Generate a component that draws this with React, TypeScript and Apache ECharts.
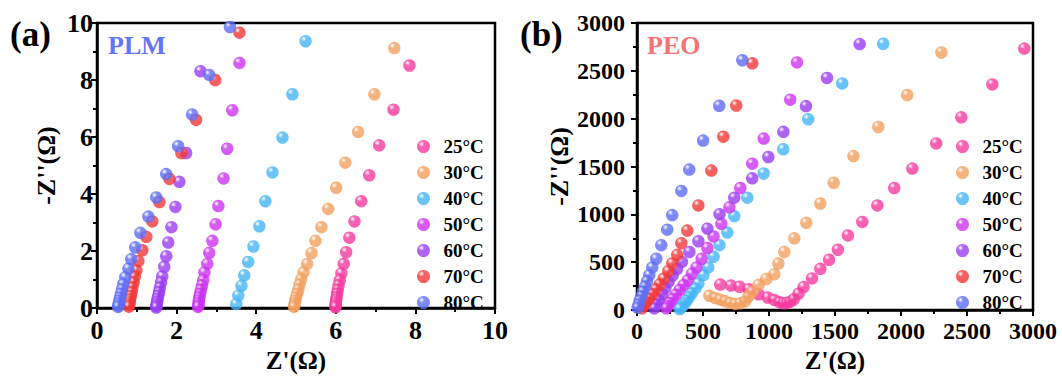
import React, { useEffect, useRef } from "react";
import * as echarts from "echarts";

const seriesNames = ["25°C", "30°C", "40°C", "50°C", "60°C", "70°C", "80°C"];
const seriesColors = ["#F53A9E", "#F2A060", "#45B5F5", "#CC33F0", "#9A3CF2", "#F23838", "#5E6CF5"];

const plmXTicks = { min: 0, max: 10, interval: 2 };
const plmYTicks = { min: 0, max: 10, interval: 2 };
const peoXTicks = { min: 0, max: 3000, interval: 500 };
const peoYTicks = { min: 0, max: 3000, interval: 500 };

const plm25 = [[7.85,8.51],[7.45,6.96],[7.09,5.71],[6.84,4.66],[6.64,3.75],[6.47,3.04],[6.34,2.47],[6.26,1.96],[6.20,1.55],[6.14,1.22],[6.10,0.98],[6.07,0.80],[6.05,0.64],[6.03,0.50],[6.02,0.38],[6.01,0.28],[6.00,0.20],[6.00,0.13],[5.99,0.07],[5.99,0.03]];
const plm30 = [[7.47,9.12],[6.97,7.50],[6.56,6.18],[6.24,5.10],[6.01,4.22],[5.81,3.48],[5.64,2.84],[5.49,2.36],[5.39,1.93],[5.28,1.55],[5.19,1.25],[5.13,1.01],[5.09,0.82],[5.06,0.65],[5.03,0.50],[5.00,0.37],[4.98,0.26],[4.97,0.17],[4.96,0.10],[4.95,0.04]];
const plm40 = [[5.24,9.36],[4.91,7.50],[4.66,5.98],[4.41,4.76],[4.23,3.75],[4.08,2.87],[3.93,2.16],[3.80,1.62],[3.70,1.15],[3.63,0.78],[3.55,0.44],[3.50,0.14]];
const plm50 = [[3.58,8.60],[3.40,6.94],[3.27,5.59],[3.18,4.55],[3.05,3.58],[2.98,2.94],[2.90,2.36],[2.82,1.94],[2.77,1.55],[2.70,1.25],[2.67,0.98],[2.64,0.80],[2.61,0.64],[2.59,0.50],[2.57,0.38],[2.56,0.27],[2.55,0.18],[2.55,0.10],[2.54,0.04]];
const plm60 = [[2.60,8.31],[2.24,5.44],[2.07,4.43],[1.97,3.55],[1.87,2.84],[1.79,2.30],[1.74,1.82],[1.69,1.45],[1.64,1.11],[1.61,0.90],[1.58,0.72],[1.56,0.56],[1.54,0.43],[1.52,0.32],[1.51,0.22],[1.50,0.14],[1.49,0.07],[1.49,0.02]];
const plm70 = [[3.58,9.66],[2.97,8.00],[2.49,6.60],[2.12,5.44],[1.82,4.53],[1.57,3.72],[1.39,3.04],[1.24,2.50],[1.14,2.03],[1.04,1.65],[0.99,1.32],[0.95,1.10],[0.92,0.90],[0.89,0.72],[0.87,0.56],[0.85,0.42],[0.83,0.30],[0.82,0.20],[0.81,0.12],[0.80,0.05]];
const plm80 = [[3.34,9.86],[2.82,8.18],[2.39,6.79],[2.04,5.68],[1.74,4.70],[1.49,3.88],[1.29,3.21],[1.09,2.64],[0.96,2.13],[0.86,1.72],[0.79,1.38],[0.71,1.08],[0.66,0.84],[0.63,0.66],[0.60,0.50],[0.58,0.37],[0.56,0.26],[0.55,0.17],[0.54,0.10],[0.53,0.04]];

const peo25 = [[631,266],[712,255],[777,243],[846,218],[921,165],[990,131],[1040,105],[1080,82],[1110,70],[1135,72],[1160,85],[1187,110],[1224,170],[1262,240],[1326,330],[1389,430],[1455,525],[1522,630],[1598,780],[1707,921],[1821,1093],[1949,1275],[2086,1478],[2267,1741],[2457,2014],[2692,2358],[2934,2733]];
const peo30 = [[548,149],[593,125],[631,108],[669,91],[707,74],[745,64],[783,70],[820,92],[845,140],[873,192],[921,263],[979,324],[1040,374],[1071,486],[1116,607],[1192,749],[1283,911],[1389,1113],[1490,1330],[1640,1609],[1828,1913],[2047,2247],[2306,2692]];
const peo40 = [[1865,2783],[1555,2368],[1297,1994],[1108,1680],[960,1427],[836,1174],[737,982],[684,810],[625,678],[580,557],[540,445],[503,364],[465,276],[442,226],[415,175],[395,135],[377,98],[360,67],[345,40],[332,24],[323,10]];
const peo50 = [[1212,2588],[1161,2199],[960,1792],[873,1530],[783,1275],[700,1073],[639,901],[580,769],[533,648],[490,536],[451,445],[416,378],[384,310],[353,260],[323,209],[295,159],[270,115],[247,74],[232,40],[222,17]];
const peo60 = [[1687,2780],[1439,2426],[1280,2132],[1109,1862],[995,1599],[873,1376],[737,1174],[625,1002],[533,850],[465,719],[397,607],[341,503],[303,428],[270,361],[240,294],[214,226],[189,165],[164,108],[146,57],[131,17]];
const peo70 = [[873,2578],[752,2137],[654,1812],[563,1457],[465,1093],[381,830],[336,698],[305,577],[267,486],[237,405],[202,327],[171,266],[144,216],[118,165],[93,121],[70,81],[50,47],[38,17]];
const peo80 = [[798,2611],[623,2135],[501,1771],[396,1468],[336,1245],[267,992],[229,840],[184,678],[146,536],[116,445],[93,364],[76,300],[61,243],[45,192],[33,142],[20,98],[12,57],[5,23]];

const plmData = [plm25, plm30, plm40, plm50, plm60, plm70, plm80];
const peoData = [peo25, peo30, peo40, peo50, peo60, peo70, peo80];

const FONT = "'Times New Roman', 'Liberation Serif', serif";

function ball(c: string) {
  return new echarts.graphic.RadialGradient(0.35, 0.3, 0.75, [
    { offset: 0, color: "rgba(255,255,255,0.95)" },
    { offset: 0.3, color: c },
    { offset: 1, color: c },
  ]);
}

const plain = (v: number) => String(v);

function makeXAxis(gridIndex: number, ticks: any, labelSize: number) {
  return {
    type: "value",
    gridIndex,
    ...ticks,
    name: "Z'(Ω)",
    nameLocation: "middle",
    nameGap: 38,
    nameTextStyle: { fontSize: 25, fontWeight: "bold", fontFamily: FONT, color: "#000" },
    axisLine: { show: true, onZero: false, lineStyle: { color: "#000", width: 2.5 } },
    axisTick: { show: true, inside: false, length: 6, lineStyle: { color: "#000", width: 2 } },
    minorTick: { show: true, splitNumber: 2, length: 4, lineStyle: { color: "#000", width: 2 } },
    splitLine: { show: false },
    axisLabel: { fontSize: labelSize, fontWeight: "bold", fontFamily: FONT, color: "#000", margin: 9, formatter: plain },
  };
}

function makeYAxis(gridIndex: number, ticks: any, nameGap: number, margin: number, labelSize: number) {
  return {
    type: "value",
    gridIndex,
    ...ticks,
    name: "-Z''(Ω)",
    nameLocation: "middle",
    nameGap,
    nameRotate: 90,
    nameTextStyle: { fontSize: 26, fontWeight: "bold", fontFamily: FONT, color: "#000" },
    axisLine: { show: true, onZero: false, lineStyle: { color: "#000", width: 2.5 } },
    axisTick: { show: true, inside: false, length: 6, lineStyle: { color: "#000", width: 2 } },
    minorTick: { show: true, splitNumber: 2, length: 4, lineStyle: { color: "#000", width: 2 } },
    splitLine: { show: false },
    axisLabel: { fontSize: labelSize, fontWeight: "bold", fontFamily: FONT, color: "#000", margin, formatter: plain },
  };
}

export default function App() {
  const ref = useRef<HTMLDivElement>(null);
  useEffect(() => {
    document.body.style.margin = "0";
    const chart = echarts.init(ref.current!, null, { renderer: "svg" });
    const series: any[] = [];
    [plmData, peoData].forEach((panel, gi) => {
      panel.forEach((data, i) => {
        series.push({
          type: "scatter",
          name: seriesNames[i],
          xAxisIndex: gi,
          yAxisIndex: gi,
          data,
          symbol: "circle",
          symbolSize: 12.5,
          itemStyle: { color: ball(seriesColors[i]) },
          z: 2 + i,
        });
      });
    });
    const legendBase = {
      data: seriesNames,
      orient: "vertical",
      top: 137,
      padding: 0,
      icon: "circle",
      itemWidth: 30,
      itemHeight: 13,
      itemGap: 7,
      selectedMode: false,
      textStyle: { fontSize: 19, fontWeight: "bold", fontFamily: FONT, color: "#000" },
    };
    const option: any = {
      animation: false,
      backgroundColor: "#fff",
      grid: [
        { left: 97, top: 23, width: 398, height: 295, show: true, borderColor: "#000", borderWidth: 2.5, backgroundColor: "transparent" },
        { left: 637, top: 23, width: 396, height: 296, show: true, borderColor: "#000", borderWidth: 2.5, backgroundColor: "transparent" },
      ],
      xAxis: [makeXAxis(0, plmXTicks, 26), makeXAxis(1, peoXTicks, 24)],
      yAxis: [makeYAxis(0, plmYTicks, 38, 4, 26), makeYAxis(1, peoYTicks, 65, 12, 24)],
      legend: [
        { ...legendBase, left: 417 },
        { ...legendBase, left: 956 },
      ],
      graphic: [
        { type: "text", left: 10, top: 17, style: { text: "(a)", fontSize: 35, fontWeight: "bold", fontFamily: FONT, fill: "#000" } },
        { type: "text", left: 520, top: 17, style: { text: "(b)", fontSize: 35, fontWeight: "bold", fontFamily: FONT, fill: "#000" } },
        { type: "text", left: 108, top: 32, style: { text: "PLM", fontSize: 26, fontWeight: "bold", fontFamily: FONT, fill: "#6675F5" } },
        { type: "text", left: 647, top: 32, style: { text: "PEO", fontSize: 26, fontWeight: "bold", fontFamily: FONT, fill: "#F27474" } },
      ],
      series,
    };
    chart.setOption(option);
    return () => chart.dispose();
  }, []);
  return <div ref={ref} style={{ width: 1062, height: 378 }} />;
}
